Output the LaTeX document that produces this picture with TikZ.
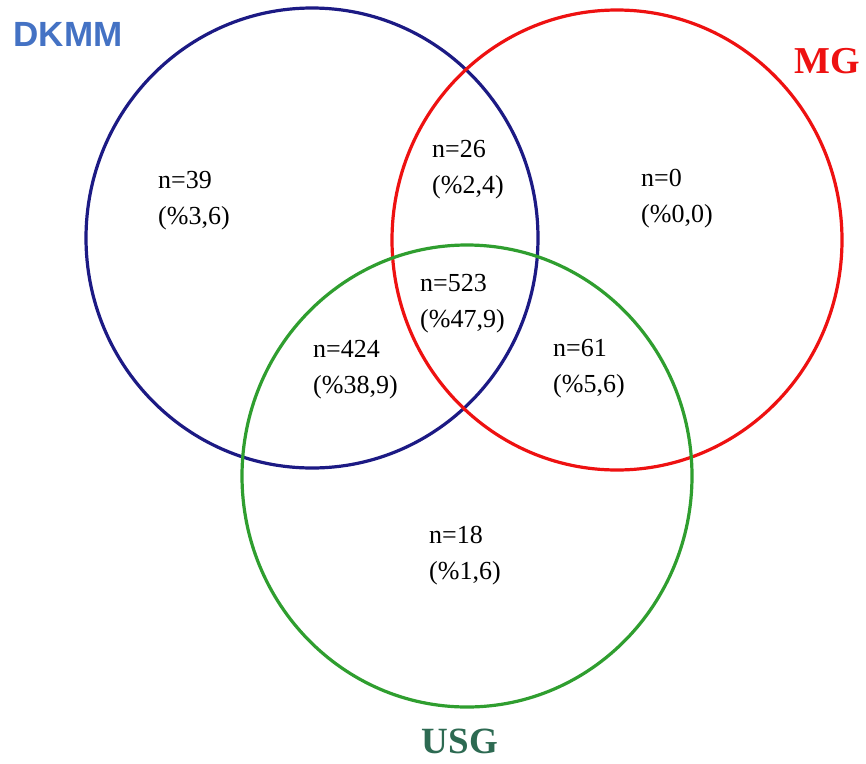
\documentclass[tikz,border=0pt]{standalone}
\usepackage{fontspec}
\setmainfont{Liberation Serif}
\newfontfamily\labsans{Liberation Sans}
\usetikzlibrary{positioning}
\definecolor{cblue}{HTML}{1C1A84}
\definecolor{cred}{HTML}{EE1111}
\definecolor{cgreen}{HTML}{2F9E2F}
\definecolor{tblue}{HTML}{4472C4}
\definecolor{tgreen}{HTML}{2D6A52}
\begin{document}
\begin{tikzpicture}[x=1pt,y=-1pt,
  ring/.style={line width=3.2pt},
  val/.style={align=left, anchor=north west, inner sep=0pt,
    font=\fontsize{26}{36}\selectfont},
  ttl/.style={inner sep=0pt, anchor=center}]
\useasboundingbox (0,0) rectangle (866,763);
\fill[white] (0,0) rectangle (866,763);
% circles
\draw[ring, cblue] (312,238) ellipse [x radius=226pt, y radius=230pt];
\draw[ring, cred] (617,240) ellipse [x radius=225pt, y radius=230pt];
\draw[ring, cgreen] (467,476) ellipse [x radius=225pt, y radius=231pt];
% titles
\node[ttl, text=tblue, font=\labsans\bfseries\fontsize{35}{40}\selectfont] (dkmm) at (68,34) {DKMM};
\node[ttl, text=cred, font=\bfseries\fontsize{38}{44}\selectfont] (mg) at (827,61) {MG};
\node[ttl, text=tgreen, font=\bfseries\fontsize{37}{44}\selectfont] (usg) at (460,741) {USG};
% values
\node[val] (a) at (158,171) {n=39\\(\%3,6)};
\node[val] (b) at (432,140) {n=26\\(\%2,4)};
\node[val] (c) at (641,169) {n=0\\(\%0,0)};
\node[val] (d) at (420,274) {n=523\\(\%47,9)};
\node[val] (e) at (313,340) {n=424\\(\%38,9)};
\node[val] (f) at (553,339) {n=61\\(\%5,6)};
\node[val] (g) at (429,526) {n=18\\(\%1,6)};
\end{tikzpicture}
\end{document}
